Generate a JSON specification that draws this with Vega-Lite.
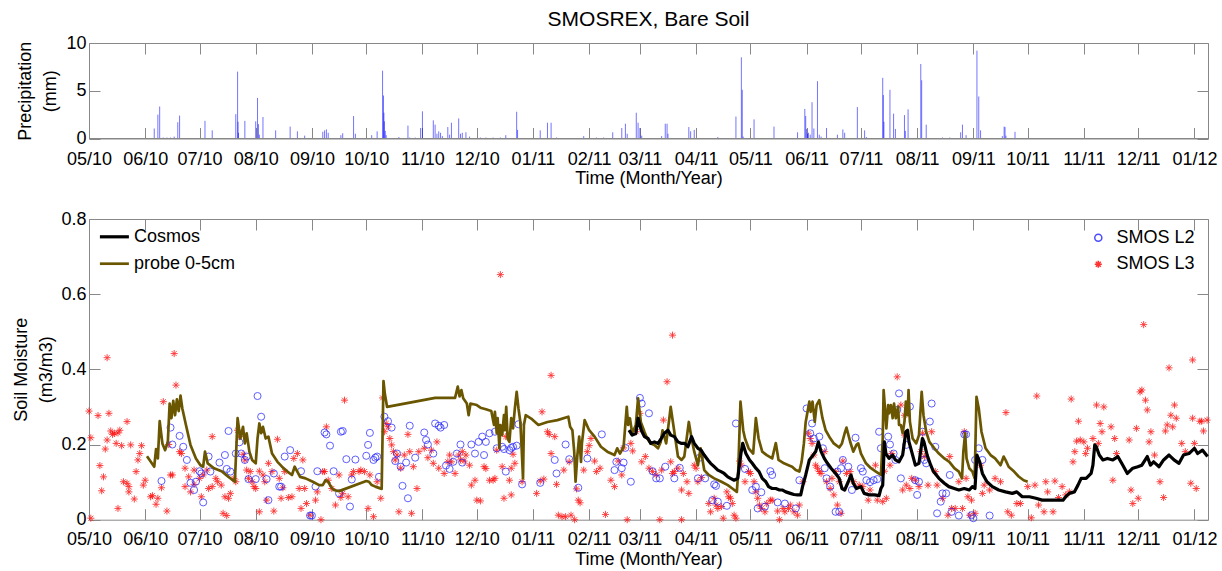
{
"$schema":"https://vega.github.io/schema/vega-lite/v6.json",
"background":"white",
"padding":{"left":11,"top":8,"right":10,"bottom":4},
"config":{
 "font":"Liberation Sans",
 "view":{"stroke":"#888888","strokeWidth":1},
 "axis":{"domain":false,"grid":false,"tickColor":"#888888","tickWidth":1,"labelColor":"#000000","titleColor":"#000000","labelFontSize":18,"titleFontSize":18,"titleFontWeight":"normal","labelFont":"Liberation Sans","titleFont":"Liberation Sans"},
 "legend":{"labelFont":"Liberation Sans","labelFontSize":18,"labelColor":"#000000","padding":0}
},
"datasets":{
"precip":[
{"date":"2010-06-06","precipitation":1.05},{"date":"2010-06-08","precipitation":2.5},{"date":"2010-06-09","precipitation":3.35},{"date":"2010-06-11","precipitation":0.1},{"date":"2010-06-13","precipitation":0.1},{"date":"2010-06-15","precipitation":0.1},{"date":"2010-06-17","precipitation":0.2},{"date":"2010-06-19","precipitation":1.7},{"date":"2010-06-20","precipitation":2.4},
{"date":"2010-07-04","precipitation":1.85},{"date":"2010-07-08","precipitation":0.85},{"date":"2010-07-21","precipitation":2.55},{"date":"2010-07-22","precipitation":7.0},{"date":"2010-07-22T06:00:00Z","precipitation":1.75},{"date":"2010-07-22T12:00:00Z","precipitation":0.6},{"date":"2010-07-26","precipitation":1.85},
{"date":"2010-08-01","precipitation":1.8},{"date":"2010-08-02","precipitation":4.25},{"date":"2010-08-02T12:00:00Z","precipitation":1.5},{"date":"2010-08-03","precipitation":0.4},{"date":"2010-08-05","precipitation":2.25},{"date":"2010-08-12","precipitation":0.85},{"date":"2010-08-20","precipitation":1.25},{"date":"2010-08-24","precipitation":0.75},{"date":"2010-08-28","precipitation":0.3},
{"date":"2010-09-07","precipitation":0.7},{"date":"2010-09-08","precipitation":0.85},{"date":"2010-09-09","precipitation":0.95},{"date":"2010-09-10","precipitation":0.6},{"date":"2010-09-17","precipitation":0.35},{"date":"2010-09-18","precipitation":0.55},{"date":"2010-09-24","precipitation":2.35},{"date":"2010-09-25","precipitation":0.5},
{"date":"2010-10-04","precipitation":0.35},{"date":"2010-10-07","precipitation":0.75},{"date":"2010-10-10","precipitation":7.1},{"date":"2010-10-10T12:00:00Z","precipitation":4.5},{"date":"2010-10-10T18:00:00Z","precipitation":2.7},{"date":"2010-10-11","precipitation":1.8},{"date":"2010-10-11T12:00:00Z","precipitation":0.8},{"date":"2010-10-12","precipitation":0.35},{"date":"2010-10-19","precipitation":0.15},{"date":"2010-10-24","precipitation":1.35},{"date":"2010-10-25","precipitation":0.1},{"date":"2010-10-28","precipitation":0.1},{"date":"2010-10-31","precipitation":1.1},
{"date":"2010-11-01","precipitation":2.85},{"date":"2010-11-07","precipitation":1.9},{"date":"2010-11-08","precipitation":1.45},{"date":"2010-11-09","precipitation":0.5},{"date":"2010-11-10","precipitation":0.75},{"date":"2010-11-11","precipitation":0.6},{"date":"2010-11-12","precipitation":0.25},{"date":"2010-11-15","precipitation":1.2},{"date":"2010-11-16","precipitation":0.4},{"date":"2010-11-17","precipitation":1.65},{"date":"2010-11-21","precipitation":2.1},{"date":"2010-11-22","precipitation":0.5},{"date":"2010-11-23","precipitation":0.6},{"date":"2010-11-25","precipitation":0.65},{"date":"2010-11-27","precipitation":0.2},
{"date":"2010-12-03","precipitation":0.1},{"date":"2010-12-06","precipitation":0.1},{"date":"2010-12-10","precipitation":0.1},{"date":"2010-12-14","precipitation":0.1},{"date":"2010-12-17","precipitation":0.35},{"date":"2010-12-23","precipitation":2.8},{"date":"2010-12-23T12:00:00Z","precipitation":0.9},
{"date":"2011-01-05","precipitation":0.85},{"date":"2011-01-09","precipitation":1.65},{"date":"2011-01-11","precipitation":1.65},{"date":"2011-01-14","precipitation":0.1},{"date":"2011-01-29","precipitation":0.25},
{"date":"2011-02-05","precipitation":0.1},{"date":"2011-02-09","precipitation":0.1},{"date":"2011-02-14","precipitation":0.65},{"date":"2011-02-19","precipitation":1.1},{"date":"2011-02-21","precipitation":1.55},{"date":"2011-02-22","precipitation":0.5},{"date":"2011-02-27","precipitation":2.7},{"date":"2011-02-28","precipitation":1.65},
{"date":"2011-03-01","precipitation":1.1},{"date":"2011-03-02","precipitation":0.3},{"date":"2011-03-13","precipitation":0.25},{"date":"2011-03-15","precipitation":1.55},{"date":"2011-03-16","precipitation":1.55},{"date":"2011-03-16T12:00:00Z","precipitation":0.5},{"date":"2011-03-28","precipitation":1.2},{"date":"2011-03-29","precipitation":0.75},{"date":"2011-03-31","precipitation":0.9},
{"date":"2011-04-13","precipitation":0.15},{"date":"2011-04-23","precipitation":2.3},{"date":"2011-04-26","precipitation":8.5},{"date":"2011-04-26T12:00:00Z","precipitation":5.1},{"date":"2011-04-27","precipitation":0.2},
{"date":"2011-05-03","precipitation":2.0},{"date":"2011-05-14","precipitation":1.25},{"date":"2011-05-27","precipitation":0.65},{"date":"2011-05-31","precipitation":3.1},{"date":"2011-05-31T12:00:00Z","precipitation":2.35},
{"date":"2011-06-01","precipitation":1.0},{"date":"2011-06-01T12:00:00Z","precipitation":0.5},{"date":"2011-06-02","precipitation":0.6},{"date":"2011-06-03","precipitation":0.4},{"date":"2011-06-04","precipitation":3.8},{"date":"2011-06-05","precipitation":1.05},{"date":"2011-06-07","precipitation":6.0},{"date":"2011-06-08","precipitation":0.4},{"date":"2011-06-09","precipitation":0.2},{"date":"2011-06-12","precipitation":1.1},{"date":"2011-06-18","precipitation":0.4},{"date":"2011-06-21","precipitation":0.95},{"date":"2011-06-22","precipitation":0.6},{"date":"2011-06-29","precipitation":3.3},
{"date":"2011-07-03","precipitation":0.85},{"date":"2011-07-04","precipitation":0.15},{"date":"2011-07-13","precipitation":6.35},{"date":"2011-07-13T08:00:00Z","precipitation":4.55},{"date":"2011-07-13T16:00:00Z","precipitation":1.75},{"date":"2011-07-17","precipitation":5.1},{"date":"2011-07-19","precipitation":2.6},{"date":"2011-07-20","precipitation":1.0},{"date":"2011-07-25","precipitation":2.45},{"date":"2011-07-25T12:00:00Z","precipitation":0.8},{"date":"2011-07-27","precipitation":3.05},
{"date":"2011-08-03","precipitation":7.8},{"date":"2011-08-03T12:00:00Z","precipitation":6.1},{"date":"2011-08-06","precipitation":1.45},{"date":"2011-08-15","precipitation":0.1},{"date":"2011-08-19","precipitation":0.1},{"date":"2011-08-25","precipitation":0.65},{"date":"2011-08-26","precipitation":1.45},{"date":"2011-08-28","precipitation":0.35},
{"date":"2011-09-03","precipitation":9.2},{"date":"2011-09-04","precipitation":4.4},{"date":"2011-09-05","precipitation":0.85},{"date":"2011-09-17","precipitation":0.25},{"date":"2011-09-18","precipitation":1.25},{"date":"2011-09-18T12:00:00Z","precipitation":1.2},{"date":"2011-09-19","precipitation":0.3},{"date":"2011-09-24","precipitation":0.7}
],
"lines":[
{"date":"2010-06-02","sm":0.169,"series":"probe 0-5cm"},{"date":"2010-06-06","sm":0.141,"series":"probe 0-5cm"},{"date":"2010-06-07","sm":0.188,"series":"probe 0-5cm"},{"date":"2010-06-08","sm":0.163,"series":"probe 0-5cm"},{"date":"2010-06-09","sm":0.262,"series":"probe 0-5cm"},{"date":"2010-06-10T12:00:00Z","sm":0.203,"series":"probe 0-5cm"},{"date":"2010-06-12","sm":0.185,"series":"probe 0-5cm"},{"date":"2010-06-13T12:00:00Z","sm":0.207,"series":"probe 0-5cm"},{"date":"2010-06-14T12:00:00Z","sm":0.309,"series":"probe 0-5cm"},{"date":"2010-06-15T12:00:00Z","sm":0.27,"series":"probe 0-5cm"},{"date":"2010-06-16T12:00:00Z","sm":0.316,"series":"probe 0-5cm"},{"date":"2010-06-17T12:00:00Z","sm":0.278,"series":"probe 0-5cm"},{"date":"2010-06-18T12:00:00Z","sm":0.32,"series":"probe 0-5cm"},{"date":"2010-06-19T12:00:00Z","sm":0.289,"series":"probe 0-5cm"},{"date":"2010-06-20T12:00:00Z","sm":0.33,"series":"probe 0-5cm"},{"date":"2010-06-21T12:00:00Z","sm":0.296,"series":"probe 0-5cm"},{"date":"2010-06-23T12:00:00Z","sm":0.252,"series":"probe 0-5cm"},{"date":"2010-06-26","sm":0.199,"series":"probe 0-5cm"},{"date":"2010-06-29","sm":0.163,"series":"probe 0-5cm"},{"date":"2010-07-01T12:00:00Z","sm":0.145,"series":"probe 0-5cm"},{"date":"2010-07-03","sm":0.141,"series":"probe 0-5cm"},{"date":"2010-07-04","sm":0.181,"series":"probe 0-5cm"},{"date":"2010-07-05T12:00:00Z","sm":0.15,"series":"probe 0-5cm"},{"date":"2010-07-09","sm":0.137,"series":"probe 0-5cm"},{"date":"2010-07-13T12:00:00Z","sm":0.128,"series":"probe 0-5cm"},{"date":"2010-07-17","sm":0.114,"series":"probe 0-5cm"},{"date":"2010-07-20T12:00:00Z","sm":0.101,"series":"probe 0-5cm"},{"date":"2010-07-22","sm":0.27,"series":"probe 0-5cm"},{"date":"2010-07-23T12:00:00Z","sm":0.216,"series":"probe 0-5cm"},{"date":"2010-07-25","sm":0.247,"series":"probe 0-5cm"},{"date":"2010-07-26","sm":0.203,"series":"probe 0-5cm"},{"date":"2010-07-27","sm":0.23,"series":"probe 0-5cm"},{"date":"2010-07-28T12:00:00Z","sm":0.181,"series":"probe 0-5cm"},{"date":"2010-07-30","sm":0.159,"series":"probe 0-5cm"},{"date":"2010-08-01","sm":0.15,"series":"probe 0-5cm"},{"date":"2010-08-02","sm":0.216,"series":"probe 0-5cm"},{"date":"2010-08-03","sm":0.256,"series":"probe 0-5cm"},{"date":"2010-08-04","sm":0.23,"series":"probe 0-5cm"},{"date":"2010-08-05","sm":0.247,"series":"probe 0-5cm"},{"date":"2010-08-06T12:00:00Z","sm":0.216,"series":"probe 0-5cm"},{"date":"2010-08-08","sm":0.221,"series":"probe 0-5cm"},{"date":"2010-08-10","sm":0.176,"series":"probe 0-5cm"},{"date":"2010-08-13","sm":0.154,"series":"probe 0-5cm"},{"date":"2010-08-15T12:00:00Z","sm":0.141,"series":"probe 0-5cm"},{"date":"2010-08-18T12:00:00Z","sm":0.128,"series":"probe 0-5cm"},{"date":"2010-08-21","sm":0.119,"series":"probe 0-5cm"},{"date":"2010-08-22T12:00:00Z","sm":0.141,"series":"probe 0-5cm"},{"date":"2010-08-23T12:00:00Z","sm":0.132,"series":"probe 0-5cm"},{"date":"2010-08-25T12:00:00Z","sm":0.114,"series":"probe 0-5cm"},{"date":"2010-08-28T12:00:00Z","sm":0.11,"series":"probe 0-5cm"},{"date":"2010-09-01T12:00:00Z","sm":0.101,"series":"probe 0-5cm"},{"date":"2010-09-05","sm":0.092,"series":"probe 0-5cm"},{"date":"2010-09-07","sm":0.092,"series":"probe 0-5cm"},{"date":"2010-09-08T12:00:00Z","sm":0.105,"series":"probe 0-5cm"},{"date":"2010-09-10","sm":0.101,"series":"probe 0-5cm"},{"date":"2010-09-11T12:00:00Z","sm":0.088,"series":"probe 0-5cm"},{"date":"2010-09-13","sm":0.079,"series":"probe 0-5cm"},{"date":"2010-09-16","sm":0.076,"series":"probe 0-5cm"},{"date":"2010-10-01","sm":0.103,"series":"probe 0-5cm"},{"date":"2010-10-02T12:00:00Z","sm":0.101,"series":"probe 0-5cm"},{"date":"2010-10-04","sm":0.092,"series":"probe 0-5cm"},{"date":"2010-10-06","sm":0.088,"series":"probe 0-5cm"},{"date":"2010-10-09T12:00:00Z","sm":0.082,"series":"probe 0-5cm"},{"date":"2010-10-10T12:00:00Z","sm":0.369,"series":"probe 0-5cm"},{"date":"2010-10-11T06:00:00Z","sm":0.335,"series":"probe 0-5cm"},{"date":"2010-10-12T12:00:00Z","sm":0.3,"series":"probe 0-5cm"},{"date":"2010-11-08","sm":0.324,"series":"probe 0-5cm"},{"date":"2010-11-19","sm":0.324,"series":"probe 0-5cm"},{"date":"2010-11-20T12:00:00Z","sm":0.354,"series":"probe 0-5cm"},{"date":"2010-11-21T12:00:00Z","sm":0.328,"series":"probe 0-5cm"},{"date":"2010-11-22T12:00:00Z","sm":0.345,"series":"probe 0-5cm"},{"date":"2010-11-23T12:00:00Z","sm":0.323,"series":"probe 0-5cm"},{"date":"2010-11-25T12:00:00Z","sm":0.309,"series":"probe 0-5cm"},{"date":"2010-11-26T12:00:00Z","sm":0.278,"series":"probe 0-5cm"},{"date":"2010-11-27T12:00:00Z","sm":0.309,"series":"probe 0-5cm"},{"date":"2010-12-01","sm":0.305,"series":"probe 0-5cm"},{"date":"2010-12-03","sm":0.298,"series":"probe 0-5cm"},{"date":"2010-12-06","sm":0.294,"series":"probe 0-5cm"},{"date":"2010-12-09","sm":0.289,"series":"probe 0-5cm"},{"date":"2010-12-10T12:00:00Z","sm":0.252,"series":"probe 0-5cm"},{"date":"2010-12-11","sm":0.287,"series":"probe 0-5cm"},{"date":"2010-12-12","sm":0.23,"series":"probe 0-5cm"},{"date":"2010-12-12T12:00:00Z","sm":0.27,"series":"probe 0-5cm"},{"date":"2010-12-13T12:00:00Z","sm":0.19,"series":"probe 0-5cm"},{"date":"2010-12-14","sm":0.252,"series":"probe 0-5cm"},{"date":"2010-12-15","sm":0.225,"series":"probe 0-5cm"},{"date":"2010-12-16","sm":0.278,"series":"probe 0-5cm"},{"date":"2010-12-16T12:00:00Z","sm":0.238,"series":"probe 0-5cm"},{"date":"2010-12-17T06:00:00Z","sm":0.3,"series":"probe 0-5cm"},{"date":"2010-12-18","sm":0.216,"series":"probe 0-5cm"},{"date":"2010-12-19","sm":0.207,"series":"probe 0-5cm"},{"date":"2010-12-20","sm":0.27,"series":"probe 0-5cm"},{"date":"2010-12-21","sm":0.243,"series":"probe 0-5cm"},{"date":"2010-12-22","sm":0.296,"series":"probe 0-5cm"},{"date":"2010-12-23","sm":0.34,"series":"probe 0-5cm"},{"date":"2010-12-24","sm":0.296,"series":"probe 0-5cm"},{"date":"2010-12-25","sm":0.261,"series":"probe 0-5cm"},{"date":"2010-12-25T18:00:00Z","sm":0.19,"series":"probe 0-5cm"},{"date":"2010-12-26T12:00:00Z","sm":0.11,"series":"probe 0-5cm"},{"date":"2010-12-27","sm":0.252,"series":"probe 0-5cm"},{"date":"2010-12-28","sm":0.278,"series":"probe 0-5cm"},{"date":"2010-12-31","sm":0.269,"series":"probe 0-5cm"},{"date":"2011-01-04","sm":0.252,"series":"probe 0-5cm"},{"date":"2011-01-09","sm":0.26,"series":"probe 0-5cm"},{"date":"2011-01-14T12:00:00Z","sm":0.265,"series":"probe 0-5cm"},{"date":"2011-01-20T12:00:00Z","sm":0.274,"series":"probe 0-5cm"},{"date":"2011-01-21T12:00:00Z","sm":0.247,"series":"probe 0-5cm"},{"date":"2011-01-22T18:00:00Z","sm":0.238,"series":"probe 0-5cm"},{"date":"2011-01-23T18:00:00Z","sm":0.181,"series":"probe 0-5cm"},{"date":"2011-01-24T12:00:00Z","sm":0.101,"series":"probe 0-5cm"},{"date":"2011-01-25T12:00:00Z","sm":0.172,"series":"probe 0-5cm"},{"date":"2011-01-26T12:00:00Z","sm":0.221,"series":"probe 0-5cm"},{"date":"2011-01-27T12:00:00Z","sm":0.154,"series":"probe 0-5cm"},{"date":"2011-01-28","sm":0.203,"series":"probe 0-5cm"},{"date":"2011-01-29T12:00:00Z","sm":0.265,"series":"probe 0-5cm"},{"date":"2011-02-01","sm":0.238,"series":"probe 0-5cm"},{"date":"2011-02-04","sm":0.221,"series":"probe 0-5cm"},{"date":"2011-02-07T12:00:00Z","sm":0.194,"series":"probe 0-5cm"},{"date":"2011-02-11","sm":0.181,"series":"probe 0-5cm"},{"date":"2011-02-15","sm":0.172,"series":"probe 0-5cm"},{"date":"2011-02-16T12:00:00Z","sm":0.19,"series":"probe 0-5cm"},{"date":"2011-02-18","sm":0.176,"series":"probe 0-5cm"},{"date":"2011-02-20","sm":0.194,"series":"probe 0-5cm"},{"date":"2011-02-21T18:00:00Z","sm":0.3,"series":"probe 0-5cm"},{"date":"2011-02-22T12:00:00Z","sm":0.252,"series":"probe 0-5cm"},{"date":"2011-02-23T12:00:00Z","sm":0.27,"series":"probe 0-5cm"},{"date":"2011-02-24T18:00:00Z","sm":0.23,"series":"probe 0-5cm"},{"date":"2011-02-26T18:00:00Z","sm":0.252,"series":"probe 0-5cm"},{"date":"2011-02-28","sm":0.323,"series":"probe 0-5cm"},{"date":"2011-03-01T12:00:00Z","sm":0.26,"series":"probe 0-5cm"},{"date":"2011-03-03T12:00:00Z","sm":0.234,"series":"probe 0-5cm"},{"date":"2011-03-05","sm":0.216,"series":"probe 0-5cm"},{"date":"2011-03-07","sm":0.203,"series":"probe 0-5cm"},{"date":"2011-03-09","sm":0.199,"series":"probe 0-5cm"},{"date":"2011-03-11","sm":0.19,"series":"probe 0-5cm"},{"date":"2011-03-12T12:00:00Z","sm":0.207,"series":"probe 0-5cm"},{"date":"2011-03-13T12:00:00Z","sm":0.238,"series":"probe 0-5cm"},{"date":"2011-03-15T12:00:00Z","sm":0.203,"series":"probe 0-5cm"},{"date":"2011-03-17","sm":0.26,"series":"probe 0-5cm"},{"date":"2011-03-18","sm":0.3,"series":"probe 0-5cm"},{"date":"2011-03-20","sm":0.234,"series":"probe 0-5cm"},{"date":"2011-03-22","sm":0.168,"series":"probe 0-5cm"},{"date":"2011-03-24","sm":0.159,"series":"probe 0-5cm"},{"date":"2011-03-25T12:00:00Z","sm":0.168,"series":"probe 0-5cm"},{"date":"2011-03-28","sm":0.26,"series":"probe 0-5cm"},{"date":"2011-03-29T12:00:00Z","sm":0.216,"series":"probe 0-5cm"},{"date":"2011-03-31","sm":0.181,"series":"probe 0-5cm"},{"date":"2011-04-02","sm":0.145,"series":"probe 0-5cm"},{"date":"2011-04-03T12:00:00Z","sm":0.19,"series":"probe 0-5cm"},{"date":"2011-04-05T12:00:00Z","sm":0.132,"series":"probe 0-5cm"},{"date":"2011-04-08","sm":0.119,"series":"probe 0-5cm"},{"date":"2011-04-11","sm":0.11,"series":"probe 0-5cm"},{"date":"2011-04-15","sm":0.101,"series":"probe 0-5cm"},{"date":"2011-04-18T12:00:00Z","sm":0.092,"series":"probe 0-5cm"},{"date":"2011-04-21","sm":0.083,"series":"probe 0-5cm"},{"date":"2011-04-23T12:00:00Z","sm":0.074,"series":"probe 0-5cm"},{"date":"2011-04-24T06:00:00Z","sm":0.128,"series":"probe 0-5cm"},{"date":"2011-04-25T12:00:00Z","sm":0.314,"series":"probe 0-5cm"},{"date":"2011-04-27","sm":0.238,"series":"probe 0-5cm"},{"date":"2011-04-28","sm":0.216,"series":"probe 0-5cm"},{"date":"2011-04-30","sm":0.19,"series":"probe 0-5cm"},{"date":"2011-05-02T12:00:00Z","sm":0.176,"series":"probe 0-5cm"},{"date":"2011-05-04","sm":0.27,"series":"probe 0-5cm"},{"date":"2011-05-05T12:00:00Z","sm":0.216,"series":"probe 0-5cm"},{"date":"2011-05-07T12:00:00Z","sm":0.181,"series":"probe 0-5cm"},{"date":"2011-05-10","sm":0.172,"series":"probe 0-5cm"},{"date":"2011-05-13","sm":0.163,"series":"probe 0-5cm"},{"date":"2011-05-15","sm":0.204,"series":"probe 0-5cm"},{"date":"2011-05-16T12:00:00Z","sm":0.159,"series":"probe 0-5cm"},{"date":"2011-05-19T12:00:00Z","sm":0.15,"series":"probe 0-5cm"},{"date":"2011-05-22","sm":0.145,"series":"probe 0-5cm"},{"date":"2011-05-24","sm":0.141,"series":"probe 0-5cm"},{"date":"2011-05-26","sm":0.132,"series":"probe 0-5cm"},{"date":"2011-05-28","sm":0.128,"series":"probe 0-5cm"},{"date":"2011-05-29T06:00:00Z","sm":0.154,"series":"probe 0-5cm"},{"date":"2011-05-30T12:00:00Z","sm":0.203,"series":"probe 0-5cm"},{"date":"2011-05-31T12:00:00Z","sm":0.26,"series":"probe 0-5cm"},{"date":"2011-06-02T12:00:00Z","sm":0.314,"series":"probe 0-5cm"},{"date":"2011-06-03T06:00:00Z","sm":0.287,"series":"probe 0-5cm"},{"date":"2011-06-04T06:00:00Z","sm":0.314,"series":"probe 0-5cm"},{"date":"2011-06-05T12:00:00Z","sm":0.26,"series":"probe 0-5cm"},{"date":"2011-06-06T12:00:00Z","sm":0.305,"series":"probe 0-5cm"},{"date":"2011-06-08","sm":0.318,"series":"probe 0-5cm"},{"date":"2011-06-09T18:00:00Z","sm":0.27,"series":"probe 0-5cm"},{"date":"2011-06-11T12:00:00Z","sm":0.238,"series":"probe 0-5cm"},{"date":"2011-06-13T12:00:00Z","sm":0.221,"series":"probe 0-5cm"},{"date":"2011-06-16","sm":0.203,"series":"probe 0-5cm"},{"date":"2011-06-19","sm":0.192,"series":"probe 0-5cm"},{"date":"2011-06-20T12:00:00Z","sm":0.203,"series":"probe 0-5cm"},{"date":"2011-06-22","sm":0.23,"series":"probe 0-5cm"},{"date":"2011-06-23","sm":0.245,"series":"probe 0-5cm"},{"date":"2011-06-25","sm":0.208,"series":"probe 0-5cm"},{"date":"2011-06-26T18:00:00Z","sm":0.181,"series":"probe 0-5cm"},{"date":"2011-06-28T12:00:00Z","sm":0.199,"series":"probe 0-5cm"},{"date":"2011-06-29T12:00:00Z","sm":0.203,"series":"probe 0-5cm"},{"date":"2011-07-01","sm":0.176,"series":"probe 0-5cm"},{"date":"2011-07-03T18:00:00Z","sm":0.15,"series":"probe 0-5cm"},{"date":"2011-07-06T12:00:00Z","sm":0.137,"series":"probe 0-5cm"},{"date":"2011-07-09T06:00:00Z","sm":0.128,"series":"probe 0-5cm"},{"date":"2011-07-12","sm":0.119,"series":"probe 0-5cm"},{"date":"2011-07-13","sm":0.216,"series":"probe 0-5cm"},{"date":"2011-07-13T12:00:00Z","sm":0.345,"series":"probe 0-5cm"},{"date":"2011-07-14T06:00:00Z","sm":0.296,"series":"probe 0-5cm"},{"date":"2011-07-15","sm":0.243,"series":"probe 0-5cm"},{"date":"2011-07-16","sm":0.305,"series":"probe 0-5cm"},{"date":"2011-07-16T12:00:00Z","sm":0.283,"series":"probe 0-5cm"},{"date":"2011-07-17T12:00:00Z","sm":0.305,"series":"probe 0-5cm"},{"date":"2011-07-18T12:00:00Z","sm":0.27,"series":"probe 0-5cm"},{"date":"2011-07-19T06:00:00Z","sm":0.309,"series":"probe 0-5cm"},{"date":"2011-07-20T06:00:00Z","sm":0.27,"series":"probe 0-5cm"},{"date":"2011-07-21T12:00:00Z","sm":0.301,"series":"probe 0-5cm"},{"date":"2011-07-22","sm":0.252,"series":"probe 0-5cm"},{"date":"2011-07-23","sm":0.252,"series":"probe 0-5cm"},{"date":"2011-07-24","sm":0.23,"series":"probe 0-5cm"},{"date":"2011-07-25","sm":0.261,"series":"probe 0-5cm"},{"date":"2011-07-25T18:00:00Z","sm":0.314,"series":"probe 0-5cm"},{"date":"2011-07-26T18:00:00Z","sm":0.278,"series":"probe 0-5cm"},{"date":"2011-07-27T06:00:00Z","sm":0.345,"series":"probe 0-5cm"},{"date":"2011-07-28","sm":0.261,"series":"probe 0-5cm"},{"date":"2011-07-29T12:00:00Z","sm":0.216,"series":"probe 0-5cm"},{"date":"2011-07-31T12:00:00Z","sm":0.203,"series":"probe 0-5cm"},{"date":"2011-08-02","sm":0.225,"series":"probe 0-5cm"},{"date":"2011-08-03T12:00:00Z","sm":0.34,"series":"probe 0-5cm"},{"date":"2011-08-04T12:00:00Z","sm":0.278,"series":"probe 0-5cm"},{"date":"2011-08-06","sm":0.234,"series":"probe 0-5cm"},{"date":"2011-08-07T18:00:00Z","sm":0.207,"series":"probe 0-5cm"},{"date":"2011-08-10T12:00:00Z","sm":0.19,"series":"probe 0-5cm"},{"date":"2011-08-13","sm":0.176,"series":"probe 0-5cm"},{"date":"2011-08-16","sm":0.163,"series":"probe 0-5cm"},{"date":"2011-08-18T18:00:00Z","sm":0.154,"series":"probe 0-5cm"},{"date":"2011-08-21T12:00:00Z","sm":0.137,"series":"probe 0-5cm"},{"date":"2011-08-24","sm":0.128,"series":"probe 0-5cm"},{"date":"2011-08-25T18:00:00Z","sm":0.11,"series":"probe 0-5cm"},{"date":"2011-08-26T12:00:00Z","sm":0.181,"series":"probe 0-5cm"},{"date":"2011-08-27T12:00:00Z","sm":0.23,"series":"probe 0-5cm"},{"date":"2011-08-28T06:00:00Z","sm":0.163,"series":"probe 0-5cm"},{"date":"2011-08-29T18:00:00Z","sm":0.137,"series":"probe 0-5cm"},{"date":"2011-08-31T12:00:00Z","sm":0.128,"series":"probe 0-5cm"},{"date":"2011-09-01T18:00:00Z","sm":0.11,"series":"probe 0-5cm"},{"date":"2011-09-02T18:00:00Z","sm":0.327,"series":"probe 0-5cm"},{"date":"2011-09-04","sm":0.296,"series":"probe 0-5cm"},{"date":"2011-09-05T12:00:00Z","sm":0.234,"series":"probe 0-5cm"},{"date":"2011-09-07T18:00:00Z","sm":0.19,"series":"probe 0-5cm"},{"date":"2011-09-10T12:00:00Z","sm":0.172,"series":"probe 0-5cm"},{"date":"2011-09-13","sm":0.163,"series":"probe 0-5cm"},{"date":"2011-09-16","sm":0.145,"series":"probe 0-5cm"},{"date":"2011-09-17T18:00:00Z","sm":0.168,"series":"probe 0-5cm"},{"date":"2011-09-18T18:00:00Z","sm":0.159,"series":"probe 0-5cm"},{"date":"2011-09-20T12:00:00Z","sm":0.141,"series":"probe 0-5cm"},{"date":"2011-09-23T12:00:00Z","sm":0.128,"series":"probe 0-5cm"},{"date":"2011-09-26","sm":0.115,"series":"probe 0-5cm"},{"date":"2011-09-28T18:00:00Z","sm":0.105,"series":"probe 0-5cm"},{"date":"2011-10-01","sm":0.101,"series":"probe 0-5cm"},
{"date":"2011-02-23","sm":0.238,"series":"Cosmos"},{"date":"2011-02-24T18:00:00Z","sm":0.225,"series":"Cosmos"},{"date":"2011-02-26T18:00:00Z","sm":0.229,"series":"Cosmos"},{"date":"2011-02-28","sm":0.27,"series":"Cosmos"},{"date":"2011-03-01T18:00:00Z","sm":0.238,"series":"Cosmos"},{"date":"2011-03-03T12:00:00Z","sm":0.221,"series":"Cosmos"},{"date":"2011-03-05T12:00:00Z","sm":0.216,"series":"Cosmos"},{"date":"2011-03-07","sm":0.203,"series":"Cosmos"},{"date":"2011-03-09","sm":0.207,"series":"Cosmos"},{"date":"2011-03-11","sm":0.203,"series":"Cosmos"},{"date":"2011-03-12T18:00:00Z","sm":0.216,"series":"Cosmos"},{"date":"2011-03-14T12:00:00Z","sm":0.23,"series":"Cosmos"},{"date":"2011-03-16T12:00:00Z","sm":0.238,"series":"Cosmos"},{"date":"2011-03-18","sm":0.225,"series":"Cosmos"},{"date":"2011-03-20","sm":0.221,"series":"Cosmos"},{"date":"2011-03-22","sm":0.207,"series":"Cosmos"},{"date":"2011-03-24","sm":0.203,"series":"Cosmos"},{"date":"2011-03-25T18:00:00Z","sm":0.203,"series":"Cosmos"},{"date":"2011-03-27T12:00:00Z","sm":0.194,"series":"Cosmos"},{"date":"2011-03-29T12:00:00Z","sm":0.221,"series":"Cosmos"},{"date":"2011-03-31","sm":0.203,"series":"Cosmos"},{"date":"2011-04-02","sm":0.19,"series":"Cosmos"},{"date":"2011-04-03T18:00:00Z","sm":0.185,"series":"Cosmos"},{"date":"2011-04-05T12:00:00Z","sm":0.172,"series":"Cosmos"},{"date":"2011-04-07T12:00:00Z","sm":0.159,"series":"Cosmos"},{"date":"2011-04-09","sm":0.15,"series":"Cosmos"},{"date":"2011-04-11","sm":0.141,"series":"Cosmos"},{"date":"2011-04-13","sm":0.132,"series":"Cosmos"},{"date":"2011-04-14T18:00:00Z","sm":0.128,"series":"Cosmos"},{"date":"2011-04-16T12:00:00Z","sm":0.123,"series":"Cosmos"},{"date":"2011-04-18T12:00:00Z","sm":0.114,"series":"Cosmos"},{"date":"2011-04-20","sm":0.11,"series":"Cosmos"},{"date":"2011-04-22","sm":0.105,"series":"Cosmos"},{"date":"2011-04-24","sm":0.11,"series":"Cosmos"},{"date":"2011-04-25T18:00:00Z","sm":0.176,"series":"Cosmos"},{"date":"2011-04-26T18:00:00Z","sm":0.203,"series":"Cosmos"},{"date":"2011-04-28T12:00:00Z","sm":0.176,"series":"Cosmos"},{"date":"2011-04-30T12:00:00Z","sm":0.159,"series":"Cosmos"},{"date":"2011-05-02","sm":0.15,"series":"Cosmos"},{"date":"2011-05-04","sm":0.137,"series":"Cosmos"},{"date":"2011-05-05T18:00:00Z","sm":0.128,"series":"Cosmos"},{"date":"2011-05-07T12:00:00Z","sm":0.11,"series":"Cosmos"},{"date":"2011-05-09T12:00:00Z","sm":0.101,"series":"Cosmos"},{"date":"2011-05-11","sm":0.088,"series":"Cosmos"},{"date":"2011-05-13","sm":0.083,"series":"Cosmos"},{"date":"2011-05-15","sm":0.083,"series":"Cosmos"},{"date":"2011-05-17","sm":0.079,"series":"Cosmos"},{"date":"2011-05-18T18:00:00Z","sm":0.079,"series":"Cosmos"},{"date":"2011-05-20T12:00:00Z","sm":0.074,"series":"Cosmos"},{"date":"2011-05-23","sm":0.07,"series":"Cosmos"},{"date":"2011-05-25","sm":0.067,"series":"Cosmos"},{"date":"2011-05-27","sm":0.066,"series":"Cosmos"},{"date":"2011-05-28T18:00:00Z","sm":0.066,"series":"Cosmos"},{"date":"2011-05-29T18:00:00Z","sm":0.088,"series":"Cosmos"},{"date":"2011-05-31T12:00:00Z","sm":0.119,"series":"Cosmos"},{"date":"2011-06-02T12:00:00Z","sm":0.159,"series":"Cosmos"},{"date":"2011-06-04","sm":0.168,"series":"Cosmos"},{"date":"2011-06-06","sm":0.181,"series":"Cosmos"},{"date":"2011-06-07T12:00:00Z","sm":0.207,"series":"Cosmos"},{"date":"2011-06-09","sm":0.181,"series":"Cosmos"},{"date":"2011-06-10T18:00:00Z","sm":0.163,"series":"Cosmos"},{"date":"2011-06-12T12:00:00Z","sm":0.15,"series":"Cosmos"},{"date":"2011-06-14T12:00:00Z","sm":0.137,"series":"Cosmos"},{"date":"2011-06-17","sm":0.123,"series":"Cosmos"},{"date":"2011-06-19","sm":0.11,"series":"Cosmos"},{"date":"2011-06-20T12:00:00Z","sm":0.083,"series":"Cosmos"},{"date":"2011-06-22","sm":0.079,"series":"Cosmos"},{"date":"2011-06-24","sm":0.101,"series":"Cosmos"},{"date":"2011-06-25T12:00:00Z","sm":0.119,"series":"Cosmos"},{"date":"2011-06-26T18:00:00Z","sm":0.097,"series":"Cosmos"},{"date":"2011-06-28T12:00:00Z","sm":0.083,"series":"Cosmos"},{"date":"2011-07-01","sm":0.088,"series":"Cosmos"},{"date":"2011-07-02T18:00:00Z","sm":0.07,"series":"Cosmos"},{"date":"2011-07-05T12:00:00Z","sm":0.066,"series":"Cosmos"},{"date":"2011-07-08T12:00:00Z","sm":0.066,"series":"Cosmos"},{"date":"2011-07-11","sm":0.064,"series":"Cosmos"},{"date":"2011-07-12","sm":0.083,"series":"Cosmos"},{"date":"2011-07-13","sm":0.092,"series":"Cosmos"},{"date":"2011-07-13T22:00:00Z","sm":0.207,"series":"Cosmos"},{"date":"2011-07-14T18:00:00Z","sm":0.176,"series":"Cosmos"},{"date":"2011-07-16T12:00:00Z","sm":0.163,"series":"Cosmos"},{"date":"2011-07-18T12:00:00Z","sm":0.172,"series":"Cosmos"},{"date":"2011-07-20","sm":0.159,"series":"Cosmos"},{"date":"2011-07-22","sm":0.154,"series":"Cosmos"},{"date":"2011-07-24","sm":0.172,"series":"Cosmos"},{"date":"2011-07-25T18:00:00Z","sm":0.234,"series":"Cosmos"},{"date":"2011-07-26T18:00:00Z","sm":0.238,"series":"Cosmos"},{"date":"2011-07-27T12:00:00Z","sm":0.207,"series":"Cosmos"},{"date":"2011-07-29T12:00:00Z","sm":0.172,"series":"Cosmos"},{"date":"2011-07-31","sm":0.145,"series":"Cosmos"},{"date":"2011-08-02","sm":0.15,"series":"Cosmos"},{"date":"2011-08-03T22:00:00Z","sm":0.216,"series":"Cosmos"},{"date":"2011-08-04T18:00:00Z","sm":0.207,"series":"Cosmos"},{"date":"2011-08-06T12:00:00Z","sm":0.172,"series":"Cosmos"},{"date":"2011-08-08T12:00:00Z","sm":0.145,"series":"Cosmos"},{"date":"2011-08-10","sm":0.128,"series":"Cosmos"},{"date":"2011-08-13","sm":0.11,"series":"Cosmos"},{"date":"2011-08-16","sm":0.097,"series":"Cosmos"},{"date":"2011-08-18T12:00:00Z","sm":0.088,"series":"Cosmos"},{"date":"2011-08-21T12:00:00Z","sm":0.083,"series":"Cosmos"},{"date":"2011-08-24","sm":0.079,"series":"Cosmos"},{"date":"2011-08-27","sm":0.083,"series":"Cosmos"},{"date":"2011-08-29T18:00:00Z","sm":0.079,"series":"Cosmos"},{"date":"2011-08-31T12:00:00Z","sm":0.088,"series":"Cosmos"},{"date":"2011-09-01T22:00:00Z","sm":0.083,"series":"Cosmos"},{"date":"2011-09-03","sm":0.172,"series":"Cosmos"},{"date":"2011-09-04T12:00:00Z","sm":0.154,"series":"Cosmos"},{"date":"2011-09-06","sm":0.123,"series":"Cosmos"},{"date":"2011-09-08T12:00:00Z","sm":0.101,"series":"Cosmos"},{"date":"2011-09-11T12:00:00Z","sm":0.088,"series":"Cosmos"},{"date":"2011-09-15","sm":0.079,"series":"Cosmos"},{"date":"2011-09-18T18:00:00Z","sm":0.074,"series":"Cosmos"},{"date":"2011-09-22T12:00:00Z","sm":0.07,"series":"Cosmos"},{"date":"2011-09-25","sm":0.074,"series":"Cosmos"},{"date":"2011-09-28","sm":0.061,"series":"Cosmos"},{"date":"2011-10-02","sm":0.061,"series":"Cosmos"},{"date":"2011-10-05T12:00:00Z","sm":0.057,"series":"Cosmos"},{"date":"2011-10-09","sm":0.052,"series":"Cosmos"},{"date":"2011-10-13","sm":0.052,"series":"Cosmos"},{"date":"2011-10-16T18:00:00Z","sm":0.052,"series":"Cosmos"},{"date":"2011-10-20T12:00:00Z","sm":0.052,"series":"Cosmos"},{"date":"2011-10-22","sm":0.061,"series":"Cosmos"},{"date":"2011-10-24","sm":0.07,"series":"Cosmos"},{"date":"2011-10-26T18:00:00Z","sm":0.074,"series":"Cosmos"},{"date":"2011-10-28T18:00:00Z","sm":0.092,"series":"Cosmos"},{"date":"2011-10-30T12:00:00Z","sm":0.11,"series":"Cosmos"},{"date":"2011-11-02T06:00:00Z","sm":0.11,"series":"Cosmos"},{"date":"2011-11-05","sm":0.123,"series":"Cosmos"},{"date":"2011-11-06","sm":0.145,"series":"Cosmos"},{"date":"2011-11-07","sm":0.199,"series":"Cosmos"},{"date":"2011-11-07T18:00:00Z","sm":0.195,"series":"Cosmos"},{"date":"2011-11-09T12:00:00Z","sm":0.172,"series":"Cosmos"},{"date":"2011-11-11T12:00:00Z","sm":0.159,"series":"Cosmos"},{"date":"2011-11-14","sm":0.163,"series":"Cosmos"},{"date":"2011-11-17","sm":0.159,"series":"Cosmos"},{"date":"2011-11-19T18:00:00Z","sm":0.168,"series":"Cosmos"},{"date":"2011-11-22T12:00:00Z","sm":0.145,"series":"Cosmos"},{"date":"2011-11-25","sm":0.123,"series":"Cosmos"},{"date":"2011-11-28","sm":0.137,"series":"Cosmos"},{"date":"2011-11-30T18:00:00Z","sm":0.141,"series":"Cosmos"},{"date":"2011-12-03","sm":0.145,"series":"Cosmos"},{"date":"2011-12-06","sm":0.168,"series":"Cosmos"},{"date":"2011-12-07T18:00:00Z","sm":0.145,"series":"Cosmos"},{"date":"2011-12-09T12:00:00Z","sm":0.154,"series":"Cosmos"},{"date":"2011-12-12T12:00:00Z","sm":0.141,"series":"Cosmos"},{"date":"2011-12-15","sm":0.159,"series":"Cosmos"},{"date":"2011-12-18","sm":0.172,"series":"Cosmos"},{"date":"2011-12-20T18:00:00Z","sm":0.159,"series":"Cosmos"},{"date":"2011-12-23T12:00:00Z","sm":0.15,"series":"Cosmos"},{"date":"2011-12-26","sm":0.172,"series":"Cosmos"},{"date":"2011-12-29","sm":0.176,"series":"Cosmos"},{"date":"2012-01-01","sm":0.19,"series":"Cosmos"},{"date":"2012-01-02T18:00:00Z","sm":0.176,"series":"Cosmos"},{"date":"2012-01-05T12:00:00Z","sm":0.185,"series":"Cosmos"},{"date":"2012-01-08T06:00:00Z","sm":0.168,"series":"Cosmos"}
],
"smos":[
{"date":"2010-05-01","sm":0.289,"product":"SMOS L3"},{"date":"2010-05-02","sm":0.004,"product":"SMOS L3"},{"date":"2010-05-02","sm":0.218,"product":"SMOS L3"},{"date":"2010-05-06","sm":0.277,"product":"SMOS L3"},{"date":"2010-05-12","sm":0.283,"product":"SMOS L3"},{"date":"2010-05-07","sm":0.144,"product":"SMOS L3"},{"date":"2010-05-10","sm":0.188,"product":"SMOS L3"},{"date":"2010-05-08","sm":0.077,"product":"SMOS L3"},{"date":"2010-05-09","sm":0.114,"product":"SMOS L3"},{"date":"2010-05-11","sm":0.212,"product":"SMOS L3"},{"date":"2010-05-13","sm":0.236,"product":"SMOS L3"},{"date":"2010-05-14","sm":0.227,"product":"SMOS L3"},{"date":"2010-05-15","sm":0.23,"product":"SMOS L3"},{"date":"2010-05-17","sm":0.231,"product":"SMOS L3"},{"date":"2010-05-18","sm":0.238,"product":"SMOS L3"},{"date":"2010-05-22","sm":0.261,"product":"SMOS L3"},{"date":"2010-05-16","sm":0.203,"product":"SMOS L3"},{"date":"2010-05-19","sm":0.197,"product":"SMOS L3"},{"date":"2010-05-17","sm":0.03,"product":"SMOS L3"},{"date":"2010-05-20","sm":0.101,"product":"SMOS L3"},{"date":"2010-05-22","sm":0.097,"product":"SMOS L3"},{"date":"2010-05-23","sm":0.088,"product":"SMOS L3"},{"date":"2010-05-24","sm":0.199,"product":"SMOS L3"},{"date":"2010-05-23","sm":0.074,"product":"SMOS L3"},{"date":"2010-05-26","sm":0.055,"product":"SMOS L3"},{"date":"2010-05-27","sm":0.128,"product":"SMOS L3"},{"date":"2010-05-28","sm":0.159,"product":"SMOS L3"},{"date":"2010-05-29","sm":0.176,"product":"SMOS L3"},{"date":"2010-05-30","sm":0.197,"product":"SMOS L3"},{"date":"2010-05-31","sm":0.092,"product":"SMOS L3"},{"date":"2010-06-01","sm":0.105,"product":"SMOS L3"},{"date":"2010-06-04","sm":0.061,"product":"SMOS L3"},{"date":"2010-06-05","sm":0.064,"product":"SMOS L3"},{"date":"2010-06-07","sm":0.041,"product":"SMOS L3"},{"date":"2010-06-08","sm":0.057,"product":"SMOS L3"},{"date":"2010-06-10","sm":0.085,"product":"SMOS L3"},{"date":"2010-06-13","sm":0.023,"product":"SMOS L3"},{"date":"2010-06-11","sm":0.314,"product":"SMOS L3"},{"date":"2010-06-14","sm":0.2,"product":"SMOS L3"},{"date":"2010-06-15","sm":0.119,"product":"SMOS L3"},{"date":"2010-06-16","sm":0.119,"product":"SMOS L3"},{"date":"2010-06-18","sm":0.358,"product":"SMOS L3"},{"date":"2010-06-17","sm":0.442,"product":"SMOS L3"},{"date":"2010-05-11","sm":0.431,"product":"SMOS L3"},{"date":"2010-06-20","sm":0.181,"product":"SMOS L3"},{"date":"2010-06-21","sm":0.176,"product":"SMOS L3"},{"date":"2010-06-23","sm":0.137,"product":"SMOS L3"},{"date":"2010-06-23","sm":0.088,"product":"SMOS L3"},{"date":"2010-06-25","sm":0.114,"product":"SMOS L3"},{"date":"2010-06-26","sm":0.074,"product":"SMOS L3"},{"date":"2010-06-28","sm":0.132,"product":"SMOS L3"},{"date":"2010-06-28","sm":0.094,"product":"SMOS L3"},{"date":"2010-07-01","sm":0.11,"product":"SMOS L3"},{"date":"2010-07-02","sm":0.061,"product":"SMOS L3"},{"date":"2010-07-03","sm":0.119,"product":"SMOS L3"},{"date":"2010-07-05","sm":0.132,"product":"SMOS L3"},{"date":"2010-07-06","sm":0.083,"product":"SMOS L3"},{"date":"2010-07-08","sm":0.221,"product":"SMOS L3"},{"date":"2010-07-08","sm":0.088,"product":"SMOS L3"},{"date":"2010-07-10","sm":0.11,"product":"SMOS L3"},{"date":"2010-07-11","sm":0.101,"product":"SMOS L3"},{"date":"2010-07-13","sm":0.092,"product":"SMOS L3"},{"date":"2010-07-14","sm":0.017,"product":"SMOS L3"},{"date":"2010-07-16","sm":0.011,"product":"SMOS L3"},{"date":"2010-07-15","sm":0.061,"product":"SMOS L3"},{"date":"2010-07-17","sm":0.057,"product":"SMOS L3"},{"date":"2010-07-18","sm":0.07,"product":"SMOS L3"},{"date":"2010-07-21","sm":0.101,"product":"SMOS L3"},{"date":"2010-07-20","sm":0.11,"product":"SMOS L3"},{"date":"2010-07-22","sm":0.238,"product":"SMOS L3"},{"date":"2010-07-23","sm":0.221,"product":"SMOS L3"},{"date":"2010-07-25","sm":0.174,"product":"SMOS L3"},{"date":"2010-07-26","sm":0.159,"product":"SMOS L3"},{"date":"2010-07-27","sm":0.132,"product":"SMOS L3"},{"date":"2010-07-28","sm":0.11,"product":"SMOS L3"},{"date":"2010-07-29","sm":0.128,"product":"SMOS L3"},{"date":"2010-07-30","sm":0.101,"product":"SMOS L3"},{"date":"2010-07-31","sm":0.088,"product":"SMOS L3"},{"date":"2010-08-01","sm":0.083,"product":"SMOS L3"},{"date":"2010-08-03","sm":0.021,"product":"SMOS L3"},{"date":"2010-08-03","sm":0.129,"product":"SMOS L3"},{"date":"2010-08-05","sm":0.119,"product":"SMOS L3"},{"date":"2010-08-06","sm":0.101,"product":"SMOS L3"},{"date":"2010-08-07","sm":0.052,"product":"SMOS L3"},{"date":"2010-08-08","sm":0.15,"product":"SMOS L3"},{"date":"2010-08-10","sm":0.128,"product":"SMOS L3"},{"date":"2010-08-11","sm":0.023,"product":"SMOS L3"},{"date":"2010-08-13","sm":0.214,"product":"SMOS L3"},{"date":"2010-08-14","sm":0.11,"product":"SMOS L3"},{"date":"2010-08-15","sm":0.057,"product":"SMOS L3"},{"date":"2010-08-16","sm":0.085,"product":"SMOS L3"},{"date":"2010-08-17","sm":0.128,"product":"SMOS L3"},{"date":"2010-08-19","sm":0.059,"product":"SMOS L3"},{"date":"2010-08-21","sm":0.061,"product":"SMOS L3"},{"date":"2010-08-22","sm":0.163,"product":"SMOS L3"},{"date":"2010-08-24","sm":0.176,"product":"SMOS L3"},{"date":"2010-08-25","sm":0.083,"product":"SMOS L3"},{"date":"2010-08-26","sm":0.03,"product":"SMOS L3"},{"date":"2010-08-27","sm":0.159,"product":"SMOS L3"},{"date":"2010-08-28","sm":0.083,"product":"SMOS L3"},{"date":"2010-08-29","sm":0.043,"product":"SMOS L3"},{"date":"2010-08-31","sm":0.012,"product":"SMOS L3"},{"date":"2010-09-03","sm":0.052,"product":"SMOS L3"},{"date":"2010-09-04","sm":0.074,"product":"SMOS L3"},{"date":"2010-09-06","sm":0.0,"product":"SMOS L3"},{"date":"2010-09-07","sm":0.128,"product":"SMOS L3"},{"date":"2010-09-08","sm":0.128,"product":"SMOS L3"},{"date":"2010-09-09","sm":0.247,"product":"SMOS L3"},{"date":"2010-09-10","sm":0.105,"product":"SMOS L3"},{"date":"2010-09-12","sm":0.083,"product":"SMOS L3"},{"date":"2010-09-14","sm":0.039,"product":"SMOS L3"},{"date":"2010-09-16","sm":0.119,"product":"SMOS L3"},{"date":"2010-09-17","sm":0.059,"product":"SMOS L3"},{"date":"2010-09-18","sm":0.07,"product":"SMOS L3"},{"date":"2010-09-19","sm":0.318,"product":"SMOS L3"},{"date":"2010-09-21","sm":0.061,"product":"SMOS L3"},{"date":"2010-09-23","sm":0.119,"product":"SMOS L3"},{"date":"2010-09-24","sm":0.128,"product":"SMOS L3"},{"date":"2010-09-27","sm":0.128,"product":"SMOS L3"},{"date":"2010-09-28","sm":0.132,"product":"SMOS L3"},{"date":"2010-09-30","sm":0.128,"product":"SMOS L3"},{"date":"2010-10-02","sm":0.03,"product":"SMOS L3"},{"date":"2010-10-03","sm":0.119,"product":"SMOS L3"},{"date":"2010-10-05","sm":0.008,"product":"SMOS L3"},{"date":"2010-10-07","sm":0.101,"product":"SMOS L3"},{"date":"2010-10-09","sm":0.057,"product":"SMOS L3"},{"date":"2010-10-10","sm":0.324,"product":"SMOS L3"},{"date":"2010-10-11","sm":0.234,"product":"SMOS L3"},{"date":"2010-10-12","sm":0.256,"product":"SMOS L3"},{"date":"2010-10-13","sm":0.247,"product":"SMOS L3"},{"date":"2010-10-14","sm":0.216,"product":"SMOS L3"},{"date":"2010-10-15","sm":0.199,"product":"SMOS L3"},{"date":"2010-10-16","sm":0.181,"product":"SMOS L3"},{"date":"2010-10-17","sm":0.159,"product":"SMOS L3"},{"date":"2010-10-18","sm":0.172,"product":"SMOS L3"},{"date":"2010-10-19","sm":0.021,"product":"SMOS L3"},{"date":"2010-10-20","sm":0.137,"product":"SMOS L3"},{"date":"2010-10-22","sm":0.172,"product":"SMOS L3"},{"date":"2010-10-24","sm":0.227,"product":"SMOS L3"},{"date":"2010-10-25","sm":0.181,"product":"SMOS L3"},{"date":"2010-10-26","sm":0.017,"product":"SMOS L3"},{"date":"2010-10-27","sm":0.141,"product":"SMOS L3"},{"date":"2010-10-29","sm":0.083,"product":"SMOS L3"},{"date":"2010-10-30","sm":0.181,"product":"SMOS L3"},{"date":"2010-11-02","sm":0.19,"product":"SMOS L3"},{"date":"2010-11-04","sm":0.165,"product":"SMOS L3"},{"date":"2010-11-06","sm":0.185,"product":"SMOS L3"},{"date":"2010-11-07","sm":0.15,"product":"SMOS L3"},{"date":"2010-11-09","sm":0.207,"product":"SMOS L3"},{"date":"2010-11-10","sm":0.137,"product":"SMOS L3"},{"date":"2010-11-13","sm":0.123,"product":"SMOS L3"},{"date":"2010-11-15","sm":0.154,"product":"SMOS L3"},{"date":"2010-11-16","sm":0.172,"product":"SMOS L3"},{"date":"2010-11-17","sm":0.154,"product":"SMOS L3"},{"date":"2010-11-19","sm":0.123,"product":"SMOS L3"},{"date":"2010-11-21","sm":0.172,"product":"SMOS L3"},{"date":"2010-11-22","sm":0.159,"product":"SMOS L3"},{"date":"2010-11-23","sm":0.181,"product":"SMOS L3"},{"date":"2010-11-24","sm":0.156,"product":"SMOS L3"},{"date":"2010-11-25","sm":0.172,"product":"SMOS L3"},{"date":"2010-11-27","sm":0.145,"product":"SMOS L3"},{"date":"2010-11-28","sm":0.092,"product":"SMOS L3"},{"date":"2010-12-01","sm":0.052,"product":"SMOS L3"},{"date":"2010-12-03","sm":0.05,"product":"SMOS L3"},{"date":"2010-11-30","sm":0.105,"product":"SMOS L3"},{"date":"2010-12-05","sm":0.141,"product":"SMOS L3"},{"date":"2010-12-06","sm":0.136,"product":"SMOS L3"},{"date":"2010-12-08","sm":0.105,"product":"SMOS L3"},{"date":"2010-12-10","sm":0.105,"product":"SMOS L3"},{"date":"2010-12-11","sm":0.11,"product":"SMOS L3"},{"date":"2010-12-12","sm":0.185,"product":"SMOS L3"},{"date":"2010-12-15","sm":0.141,"product":"SMOS L3"},{"date":"2010-12-16","sm":0.057,"product":"SMOS L3"},{"date":"2010-12-17","sm":0.221,"product":"SMOS L3"},{"date":"2010-12-19","sm":0.105,"product":"SMOS L3"},{"date":"2010-12-20","sm":0.066,"product":"SMOS L3"},{"date":"2010-12-21","sm":0.174,"product":"SMOS L3"},{"date":"2010-12-22","sm":0.15,"product":"SMOS L3"},{"date":"2010-12-20","sm":0.137,"product":"SMOS L3"},{"date":"2010-12-26","sm":0.101,"product":"SMOS L3"},{"date":"2010-12-14","sm":0.652,"product":"SMOS L3"},{"date":"2011-01-03","sm":0.07,"product":"SMOS L3"},{"date":"2011-01-05","sm":0.103,"product":"SMOS L3"},{"date":"2011-01-06","sm":0.287,"product":"SMOS L3"},{"date":"2011-01-07","sm":0.108,"product":"SMOS L3"},{"date":"2011-01-09","sm":0.234,"product":"SMOS L3"},{"date":"2011-01-10","sm":0.227,"product":"SMOS L3"},{"date":"2011-01-11","sm":0.176,"product":"SMOS L3"},{"date":"2011-01-11","sm":0.384,"product":"SMOS L3"},{"date":"2011-01-13","sm":0.221,"product":"SMOS L3"},{"date":"2011-01-14","sm":0.094,"product":"SMOS L3"},{"date":"2011-01-15","sm":0.012,"product":"SMOS L3"},{"date":"2011-01-17","sm":0.008,"product":"SMOS L3"},{"date":"2011-01-19","sm":0.008,"product":"SMOS L3"},{"date":"2011-01-22","sm":0.012,"product":"SMOS L3"},{"date":"2011-01-24","sm":0.0,"product":"SMOS L3"},{"date":"2011-01-18","sm":0.132,"product":"SMOS L3"},{"date":"2011-01-21","sm":0.154,"product":"SMOS L3"},{"date":"2011-01-25","sm":0.082,"product":"SMOS L3"},{"date":"2011-01-26","sm":0.052,"product":"SMOS L3"},{"date":"2011-01-27","sm":0.045,"product":"SMOS L3"},{"date":"2011-01-29","sm":0.132,"product":"SMOS L3"},{"date":"2011-01-31","sm":0.181,"product":"SMOS L3"},{"date":"2011-02-01","sm":0.197,"product":"SMOS L3"},{"date":"2011-02-02","sm":0.216,"product":"SMOS L3"},{"date":"2011-02-04","sm":0.156,"product":"SMOS L3"},{"date":"2011-02-05","sm":0.128,"product":"SMOS L3"},{"date":"2011-02-07","sm":0.137,"product":"SMOS L3"},{"date":"2011-02-10","sm":0.014,"product":"SMOS L3"},{"date":"2011-02-13","sm":0.105,"product":"SMOS L3"},{"date":"2011-02-15","sm":0.088,"product":"SMOS L3"},{"date":"2011-02-17","sm":0.156,"product":"SMOS L3"},{"date":"2011-02-19","sm":0.119,"product":"SMOS L3"},{"date":"2011-02-20","sm":0.191,"product":"SMOS L3"},{"date":"2011-02-22","sm":0.0,"product":"SMOS L3"},{"date":"2011-02-24","sm":0.203,"product":"SMOS L3"},{"date":"2011-02-25","sm":0.183,"product":"SMOS L3"},{"date":"2011-02-27","sm":0.234,"product":"SMOS L3"},{"date":"2011-03-01","sm":0.283,"product":"SMOS L3"},{"date":"2011-03-02","sm":0.154,"product":"SMOS L3"},{"date":"2011-03-04","sm":0.168,"product":"SMOS L3"},{"date":"2011-03-06","sm":0.137,"product":"SMOS L3"},{"date":"2011-03-08","sm":0.128,"product":"SMOS L3"},{"date":"2011-03-10","sm":0.119,"product":"SMOS L3"},{"date":"2011-03-12","sm":0.0,"product":"SMOS L3"},{"date":"2011-03-13","sm":0.132,"product":"SMOS L3"},{"date":"2011-03-14","sm":0.265,"product":"SMOS L3"},{"date":"2011-03-16","sm":0.367,"product":"SMOS L3"},{"date":"2011-03-19","sm":0.491,"product":"SMOS L3"},{"date":"2011-03-18","sm":0.154,"product":"SMOS L3"},{"date":"2011-03-19","sm":0.123,"product":"SMOS L3"},{"date":"2011-03-20","sm":0.128,"product":"SMOS L3"},{"date":"2011-03-22","sm":0.137,"product":"SMOS L3"},{"date":"2011-03-24","sm":0.0,"product":"SMOS L3"},{"date":"2011-03-24","sm":0.079,"product":"SMOS L3"},{"date":"2011-03-25","sm":0.123,"product":"SMOS L3"},{"date":"2011-03-27","sm":0.101,"product":"SMOS L3"},{"date":"2011-03-28","sm":0.07,"product":"SMOS L3"},{"date":"2011-03-31","sm":0.145,"product":"SMOS L3"},{"date":"2011-04-01","sm":0.137,"product":"SMOS L3"},{"date":"2011-04-02","sm":0.101,"product":"SMOS L3"},{"date":"2011-04-04","sm":0.112,"product":"SMOS L3"},{"date":"2011-04-08","sm":0.043,"product":"SMOS L3"},{"date":"2011-04-09","sm":0.021,"product":"SMOS L3"},{"date":"2011-04-11","sm":0.057,"product":"SMOS L3"},{"date":"2011-04-12","sm":0.039,"product":"SMOS L3"},{"date":"2011-04-13","sm":0.03,"product":"SMOS L3"},{"date":"2011-04-15","sm":0.035,"product":"SMOS L3"},{"date":"2011-04-16","sm":0.004,"product":"SMOS L3"},{"date":"2011-04-18","sm":0.074,"product":"SMOS L3"},{"date":"2011-04-19","sm":0.061,"product":"SMOS L3"},{"date":"2011-04-20","sm":0.057,"product":"SMOS L3"},{"date":"2011-04-21","sm":0.043,"product":"SMOS L3"},{"date":"2011-04-22","sm":0.012,"product":"SMOS L3"},{"date":"2011-04-23","sm":0.004,"product":"SMOS L3"},{"date":"2011-04-25","sm":0.156,"product":"SMOS L3"},{"date":"2011-04-26","sm":0.145,"product":"SMOS L3"},{"date":"2011-04-28","sm":0.101,"product":"SMOS L3"},{"date":"2011-04-30","sm":0.128,"product":"SMOS L3"},{"date":"2011-05-01","sm":0.123,"product":"SMOS L3"},{"date":"2011-05-03","sm":0.101,"product":"SMOS L3"},{"date":"2011-05-04","sm":0.074,"product":"SMOS L3"},{"date":"2011-05-05","sm":0.057,"product":"SMOS L3"},{"date":"2011-05-06","sm":0.039,"product":"SMOS L3"},{"date":"2011-05-07","sm":0.03,"product":"SMOS L3"},{"date":"2011-05-09","sm":0.021,"product":"SMOS L3"},{"date":"2011-05-10","sm":0.043,"product":"SMOS L3"},{"date":"2011-05-12","sm":0.052,"product":"SMOS L3"},{"date":"2011-05-13","sm":0.052,"product":"SMOS L3"},{"date":"2011-05-16","sm":0.023,"product":"SMOS L3"},{"date":"2011-05-17","sm":0.0,"product":"SMOS L3"},{"date":"2011-05-19","sm":0.03,"product":"SMOS L3"},{"date":"2011-05-20","sm":0.021,"product":"SMOS L3"},{"date":"2011-05-22","sm":0.03,"product":"SMOS L3"},{"date":"2011-05-23","sm":0.039,"product":"SMOS L3"},{"date":"2011-05-25","sm":0.021,"product":"SMOS L3"},{"date":"2011-05-27","sm":0.012,"product":"SMOS L3"},{"date":"2011-05-28","sm":0.039,"product":"SMOS L3"},{"date":"2011-05-30","sm":0.101,"product":"SMOS L3"},{"date":"2011-06-02","sm":0.23,"product":"SMOS L3"},{"date":"2011-06-03","sm":0.216,"product":"SMOS L3"},{"date":"2011-06-04","sm":0.203,"product":"SMOS L3"},{"date":"2011-06-05","sm":0.172,"product":"SMOS L3"},{"date":"2011-06-06","sm":0.145,"product":"SMOS L3"},{"date":"2011-06-07","sm":0.137,"product":"SMOS L3"},{"date":"2011-06-08","sm":0.128,"product":"SMOS L3"},{"date":"2011-06-09","sm":0.123,"product":"SMOS L3"},{"date":"2011-06-11","sm":0.181,"product":"SMOS L3"},{"date":"2011-06-12","sm":0.101,"product":"SMOS L3"},{"date":"2011-06-14","sm":0.083,"product":"SMOS L3"},{"date":"2011-06-15","sm":0.11,"product":"SMOS L3"},{"date":"2011-06-17","sm":0.128,"product":"SMOS L3"},{"date":"2011-06-16","sm":0.066,"product":"SMOS L3"},{"date":"2011-06-18","sm":0.039,"product":"SMOS L3"},{"date":"2011-06-20","sm":0.017,"product":"SMOS L3"},{"date":"2011-06-19","sm":0.101,"product":"SMOS L3"},{"date":"2011-06-21","sm":0.156,"product":"SMOS L3"},{"date":"2011-06-23","sm":0.123,"product":"SMOS L3"},{"date":"2011-06-25","sm":0.128,"product":"SMOS L3"},{"date":"2011-06-27","sm":0.101,"product":"SMOS L3"},{"date":"2011-06-30","sm":0.092,"product":"SMOS L3"},{"date":"2011-07-02","sm":0.088,"product":"SMOS L3"},{"date":"2011-07-05","sm":0.052,"product":"SMOS L3"},{"date":"2011-07-06","sm":0.079,"product":"SMOS L3"},{"date":"2011-07-09","sm":0.145,"product":"SMOS L3"},{"date":"2011-07-10","sm":0.052,"product":"SMOS L3"},{"date":"2011-07-13","sm":0.048,"product":"SMOS L3"},{"date":"2011-07-14","sm":0.129,"product":"SMOS L3"},{"date":"2011-07-15","sm":0.057,"product":"SMOS L3"},{"date":"2011-07-17","sm":0.145,"product":"SMOS L3"},{"date":"2011-07-18","sm":0.176,"product":"SMOS L3"},{"date":"2011-07-21","sm":0.38,"product":"SMOS L3"},{"date":"2011-07-23","sm":0.305,"product":"SMOS L3"},{"date":"2011-07-24","sm":0.079,"product":"SMOS L3"},{"date":"2011-07-25","sm":0.225,"product":"SMOS L3"},{"date":"2011-07-25","sm":0.278,"product":"SMOS L3"},{"date":"2011-07-26","sm":0.092,"product":"SMOS L3"},{"date":"2011-07-28","sm":0.083,"product":"SMOS L3"},{"date":"2011-07-29","sm":0.11,"product":"SMOS L3"},{"date":"2011-07-31","sm":0.105,"product":"SMOS L3"},{"date":"2011-08-02","sm":0.088,"product":"SMOS L3"},{"date":"2011-08-03","sm":0.181,"product":"SMOS L3"},{"date":"2011-08-04","sm":0.23,"product":"SMOS L3"},{"date":"2011-08-05","sm":0.168,"product":"SMOS L3"},{"date":"2011-08-07","sm":0.092,"product":"SMOS L3"},{"date":"2011-08-09","sm":0.234,"product":"SMOS L3"},{"date":"2011-08-11","sm":0.128,"product":"SMOS L3"},{"date":"2011-08-12","sm":0.092,"product":"SMOS L3"},{"date":"2011-08-15","sm":0.057,"product":"SMOS L3"},{"date":"2011-08-18","sm":0.012,"product":"SMOS L3"},{"date":"2011-08-19","sm":0.168,"product":"SMOS L3"},{"date":"2011-08-20","sm":0.03,"product":"SMOS L3"},{"date":"2011-08-22","sm":0.03,"product":"SMOS L3"},{"date":"2011-08-24","sm":0.101,"product":"SMOS L3"},{"date":"2011-08-26","sm":0.03,"product":"SMOS L3"},{"date":"2011-08-27","sm":0.234,"product":"SMOS L3"},{"date":"2011-08-28","sm":0.11,"product":"SMOS L3"},{"date":"2011-08-29","sm":0.061,"product":"SMOS L3"},{"date":"2011-08-30","sm":0.012,"product":"SMOS L3"},{"date":"2011-08-31","sm":0.052,"product":"SMOS L3"},{"date":"2011-09-02","sm":0.017,"product":"SMOS L3"},{"date":"2011-09-05","sm":0.145,"product":"SMOS L3"},{"date":"2011-09-06","sm":0.07,"product":"SMOS L3"},{"date":"2011-09-07","sm":0.092,"product":"SMOS L3"},{"date":"2011-09-10","sm":0.079,"product":"SMOS L3"},{"date":"2011-09-13","sm":0.11,"product":"SMOS L3"},{"date":"2011-09-16","sm":0.101,"product":"SMOS L3"},{"date":"2011-09-19","sm":0.285,"product":"SMOS L3"},{"date":"2011-09-20","sm":0.021,"product":"SMOS L3"},{"date":"2011-09-22","sm":0.012,"product":"SMOS L3"},{"date":"2011-09-25","sm":0.043,"product":"SMOS L3"},{"date":"2011-09-27","sm":0.043,"product":"SMOS L3"},{"date":"2011-10-01","sm":0.088,"product":"SMOS L3"},{"date":"2011-10-03","sm":0.005,"product":"SMOS L3"},{"date":"2011-10-05","sm":0.092,"product":"SMOS L3"},{"date":"2011-10-06","sm":0.329,"product":"SMOS L3"},{"date":"2011-10-07","sm":0.039,"product":"SMOS L3"},{"date":"2011-10-10","sm":0.021,"product":"SMOS L3"},{"date":"2011-10-11","sm":0.101,"product":"SMOS L3"},{"date":"2011-10-12","sm":0.074,"product":"SMOS L3"},{"date":"2011-10-15","sm":0.021,"product":"SMOS L3"},{"date":"2011-10-16","sm":0.103,"product":"SMOS L3"},{"date":"2011-10-18","sm":0.059,"product":"SMOS L3"},{"date":"2011-10-20","sm":0.088,"product":"SMOS L3"},{"date":"2011-10-22","sm":0.066,"product":"SMOS L3"},{"date":"2011-10-24","sm":0.074,"product":"SMOS L3"},{"date":"2011-10-25","sm":0.321,"product":"SMOS L3"},{"date":"2011-10-26","sm":0.154,"product":"SMOS L3"},{"date":"2011-10-27","sm":0.181,"product":"SMOS L3"},{"date":"2011-10-29","sm":0.262,"product":"SMOS L3"},{"date":"2011-10-28","sm":0.209,"product":"SMOS L3"},{"date":"2011-10-30","sm":0.212,"product":"SMOS L3"},{"date":"2011-11-01","sm":0.207,"product":"SMOS L3"},{"date":"2011-11-02","sm":0.176,"product":"SMOS L3"},{"date":"2011-11-03","sm":0.19,"product":"SMOS L3"},{"date":"2011-11-06","sm":0.216,"product":"SMOS L3"},{"date":"2011-11-08","sm":0.305,"product":"SMOS L3"},{"date":"2011-11-09","sm":0.203,"product":"SMOS L3"},{"date":"2011-11-11","sm":0.234,"product":"SMOS L3"},{"date":"2011-11-12","sm":0.3,"product":"SMOS L3"},{"date":"2011-11-10","sm":0.256,"product":"SMOS L3"},{"date":"2011-11-16","sm":0.247,"product":"SMOS L3"},{"date":"2011-11-17","sm":0.105,"product":"SMOS L3"},{"date":"2011-11-18","sm":0.216,"product":"SMOS L3"},{"date":"2011-11-19","sm":0.176,"product":"SMOS L3"},{"date":"2011-11-26","sm":0.212,"product":"SMOS L3"},{"date":"2011-11-27","sm":0.079,"product":"SMOS L3"},{"date":"2011-11-28","sm":0.043,"product":"SMOS L3"},{"date":"2011-11-30","sm":0.243,"product":"SMOS L3"},{"date":"2011-12-01","sm":0.057,"product":"SMOS L3"},{"date":"2011-12-03","sm":0.345,"product":"SMOS L3"},{"date":"2011-12-05","sm":0.318,"product":"SMOS L3"},{"date":"2011-12-06","sm":0.292,"product":"SMOS L3"},{"date":"2011-12-07","sm":0.207,"product":"SMOS L3"},{"date":"2011-12-08","sm":0.234,"product":"SMOS L3"},{"date":"2011-12-10","sm":0.172,"product":"SMOS L3"},{"date":"2011-12-13","sm":0.101,"product":"SMOS L3"},{"date":"2011-12-15","sm":0.059,"product":"SMOS L3"},{"date":"2011-12-16","sm":0.236,"product":"SMOS L3"},{"date":"2011-12-17","sm":0.252,"product":"SMOS L3"},{"date":"2011-12-19","sm":0.278,"product":"SMOS L3"},{"date":"2011-12-21","sm":0.305,"product":"SMOS L3"},{"date":"2011-12-22","sm":0.27,"product":"SMOS L3"},{"date":"2011-12-20","sm":0.247,"product":"SMOS L3"},{"date":"2011-12-25","sm":0.203,"product":"SMOS L3"},{"date":"2011-12-27","sm":0.181,"product":"SMOS L3"},{"date":"2011-12-30","sm":0.097,"product":"SMOS L3"},{"date":"2012-01-01","sm":0.203,"product":"SMOS L3"},{"date":"2012-01-02","sm":0.083,"product":"SMOS L3"},{"date":"2011-12-31","sm":0.27,"product":"SMOS L3"},{"date":"2012-01-04","sm":0.262,"product":"SMOS L3"},{"date":"2012-01-05","sm":0.262,"product":"SMOS L3"},{"date":"2012-01-06","sm":0.236,"product":"SMOS L3"},{"date":"2012-01-08","sm":0.265,"product":"SMOS L3"},{"date":"2011-12-04","sm":0.519,"product":"SMOS L3"},{"date":"2011-12-18","sm":0.404,"product":"SMOS L3"},{"date":"2011-12-31","sm":0.425,"product":"SMOS L3"},{"date":"2011-12-02","sm":0.34,"product":"SMOS L3"},
{"date":"2010-06-10","sm":0.103,"product":"SMOS L2"},{"date":"2010-06-15","sm":0.245,"product":"SMOS L2"},{"date":"2010-06-16","sm":0.2,"product":"SMOS L2"},{"date":"2010-06-20","sm":0.223,"product":"SMOS L2"},{"date":"2010-06-22","sm":0.194,"product":"SMOS L2"},{"date":"2010-06-24","sm":0.159,"product":"SMOS L2"},{"date":"2010-06-26","sm":0.098,"product":"SMOS L2"},{"date":"2010-06-28","sm":0.079,"product":"SMOS L2"},{"date":"2010-06-29","sm":0.101,"product":"SMOS L2"},{"date":"2010-07-01","sm":0.129,"product":"SMOS L2"},{"date":"2010-07-02","sm":0.123,"product":"SMOS L2"},{"date":"2010-07-03","sm":0.046,"product":"SMOS L2"},{"date":"2010-07-06","sm":0.168,"product":"SMOS L2"},{"date":"2010-07-07","sm":0.128,"product":"SMOS L2"},{"date":"2010-07-12","sm":0.152,"product":"SMOS L2"},{"date":"2010-07-15","sm":0.172,"product":"SMOS L2"},{"date":"2010-07-16","sm":0.135,"product":"SMOS L2"},{"date":"2010-07-17","sm":0.236,"product":"SMOS L2"},{"date":"2010-07-18","sm":0.128,"product":"SMOS L2"},{"date":"2010-07-21","sm":0.176,"product":"SMOS L2"},{"date":"2010-07-23","sm":0.206,"product":"SMOS L2"},{"date":"2010-07-24","sm":0.176,"product":"SMOS L2"},{"date":"2010-07-26","sm":0.159,"product":"SMOS L2"},{"date":"2010-07-27","sm":0.168,"product":"SMOS L2"},{"date":"2010-07-28","sm":0.108,"product":"SMOS L2"},{"date":"2010-08-01","sm":0.108,"product":"SMOS L2"},{"date":"2010-08-02","sm":0.329,"product":"SMOS L2"},{"date":"2010-08-04","sm":0.274,"product":"SMOS L2"},{"date":"2010-08-08","sm":0.052,"product":"SMOS L2"},{"date":"2010-08-07","sm":0.108,"product":"SMOS L2"},{"date":"2010-08-11","sm":0.123,"product":"SMOS L2"},{"date":"2010-08-14","sm":0.088,"product":"SMOS L2"},{"date":"2010-08-15","sm":0.088,"product":"SMOS L2"},{"date":"2010-08-17","sm":0.168,"product":"SMOS L2"},{"date":"2010-08-20","sm":0.185,"product":"SMOS L2"},{"date":"2010-08-26","sm":0.129,"product":"SMOS L2"},{"date":"2010-08-31","sm":0.011,"product":"SMOS L2"},{"date":"2010-09-01","sm":0.011,"product":"SMOS L2"},{"date":"2010-09-03","sm":0.088,"product":"SMOS L2"},{"date":"2010-09-04","sm":0.129,"product":"SMOS L2"},{"date":"2010-09-08","sm":0.232,"product":"SMOS L2"},{"date":"2010-09-09","sm":0.227,"product":"SMOS L2"},{"date":"2010-09-11","sm":0.197,"product":"SMOS L2"},{"date":"2010-09-13","sm":0.129,"product":"SMOS L2"},{"date":"2010-09-16","sm":0.07,"product":"SMOS L2"},{"date":"2010-09-17","sm":0.234,"product":"SMOS L2"},{"date":"2010-09-18","sm":0.236,"product":"SMOS L2"},{"date":"2010-09-20","sm":0.161,"product":"SMOS L2"},{"date":"2010-09-22","sm":0.035,"product":"SMOS L2"},{"date":"2010-09-23","sm":0.107,"product":"SMOS L2"},{"date":"2010-09-25","sm":0.16,"product":"SMOS L2"},{"date":"2010-10-01","sm":0.17,"product":"SMOS L2"},{"date":"2010-10-02","sm":0.199,"product":"SMOS L2"},{"date":"2010-10-03","sm":0.231,"product":"SMOS L2"},{"date":"2010-10-05","sm":0.159,"product":"SMOS L2"},{"date":"2010-10-06","sm":0.165,"product":"SMOS L2"},{"date":"2010-10-07","sm":0.168,"product":"SMOS L2"},{"date":"2010-10-08","sm":0.114,"product":"SMOS L2"},{"date":"2010-10-11","sm":0.274,"product":"SMOS L2"},{"date":"2010-10-13","sm":0.262,"product":"SMOS L2"},{"date":"2010-10-15","sm":0.245,"product":"SMOS L2"},{"date":"2010-10-17","sm":0.156,"product":"SMOS L2"},{"date":"2010-10-18","sm":0.176,"product":"SMOS L2"},{"date":"2010-10-20","sm":0.141,"product":"SMOS L2"},{"date":"2010-10-21","sm":0.09,"product":"SMOS L2"},{"date":"2010-10-23","sm":0.152,"product":"SMOS L2"},{"date":"2010-10-24","sm":0.057,"product":"SMOS L2"},{"date":"2010-10-25","sm":0.25,"product":"SMOS L2"},{"date":"2010-10-28","sm":0.165,"product":"SMOS L2"},{"date":"2010-11-02","sm":0.232,"product":"SMOS L2"},{"date":"2010-11-03","sm":0.212,"product":"SMOS L2"},{"date":"2010-11-04","sm":0.2,"product":"SMOS L2"},{"date":"2010-11-07","sm":0.176,"product":"SMOS L2"},{"date":"2010-11-08","sm":0.256,"product":"SMOS L2"},{"date":"2010-11-10","sm":0.25,"product":"SMOS L2"},{"date":"2010-11-11","sm":0.245,"product":"SMOS L2"},{"date":"2010-11-13","sm":0.252,"product":"SMOS L2"},{"date":"2010-11-14","sm":0.144,"product":"SMOS L2"},{"date":"2010-11-16","sm":0.135,"product":"SMOS L2"},{"date":"2010-11-18","sm":0.154,"product":"SMOS L2"},{"date":"2010-11-20","sm":0.176,"product":"SMOS L2"},{"date":"2010-11-22","sm":0.2,"product":"SMOS L2"},{"date":"2010-11-23","sm":0.152,"product":"SMOS L2"},{"date":"2010-11-28","sm":0.2,"product":"SMOS L2"},{"date":"2010-11-30","sm":0.176,"product":"SMOS L2"},{"date":"2010-12-02","sm":0.207,"product":"SMOS L2"},{"date":"2010-12-04","sm":0.221,"product":"SMOS L2"},{"date":"2010-12-05","sm":0.172,"product":"SMOS L2"},{"date":"2010-12-06","sm":0.207,"product":"SMOS L2"},{"date":"2010-12-08","sm":0.23,"product":"SMOS L2"},{"date":"2010-12-11","sm":0.234,"product":"SMOS L2"},{"date":"2010-12-12","sm":0.19,"product":"SMOS L2"},{"date":"2010-12-15","sm":0.194,"product":"SMOS L2"},{"date":"2010-12-16","sm":0.188,"product":"SMOS L2"},{"date":"2010-12-17","sm":0.128,"product":"SMOS L2"},{"date":"2010-12-19","sm":0.185,"product":"SMOS L2"},{"date":"2010-12-20","sm":0.191,"product":"SMOS L2"},{"date":"2010-12-21","sm":0.194,"product":"SMOS L2"},{"date":"2010-12-23","sm":0.197,"product":"SMOS L2"},{"date":"2010-12-24","sm":0.254,"product":"SMOS L2"},{"date":"2010-12-26","sm":0.094,"product":"SMOS L2"},{"date":"2011-01-05","sm":0.098,"product":"SMOS L2"},{"date":"2011-01-13","sm":0.159,"product":"SMOS L2"},{"date":"2011-01-14","sm":0.123,"product":"SMOS L2"},{"date":"2011-01-19","sm":0.2,"product":"SMOS L2"},{"date":"2011-01-21","sm":0.161,"product":"SMOS L2"},{"date":"2011-01-26","sm":0.085,"product":"SMOS L2"},{"date":"2011-01-31","sm":0.163,"product":"SMOS L2"},{"date":"2011-02-08","sm":0.227,"product":"SMOS L2"},{"date":"2011-02-15","sm":0.132,"product":"SMOS L2"},{"date":"2011-02-16","sm":0.154,"product":"SMOS L2"},{"date":"2011-02-19","sm":0.137,"product":"SMOS L2"},{"date":"2011-02-20","sm":0.152,"product":"SMOS L2"},{"date":"2011-02-21","sm":0.191,"product":"SMOS L2"},{"date":"2011-02-24","sm":0.101,"product":"SMOS L2"},{"date":"2011-03-01","sm":0.324,"product":"SMOS L2"},{"date":"2011-03-02","sm":0.309,"product":"SMOS L2"},{"date":"2011-03-06","sm":0.283,"product":"SMOS L2"},{"date":"2011-03-08","sm":0.129,"product":"SMOS L2"},{"date":"2011-03-10","sm":0.11,"product":"SMOS L2"},{"date":"2011-03-12","sm":0.11,"product":"SMOS L2"},{"date":"2011-03-15","sm":0.141,"product":"SMOS L2"},{"date":"2011-03-20","sm":0.11,"product":"SMOS L2"},{"date":"2011-03-23","sm":0.138,"product":"SMOS L2"},{"date":"2011-04-02","sm":0.11,"product":"SMOS L2"},{"date":"2011-04-03","sm":0.165,"product":"SMOS L2"},{"date":"2011-04-06","sm":0.11,"product":"SMOS L2"},{"date":"2011-04-11","sm":0.094,"product":"SMOS L2"},{"date":"2011-04-12","sm":0.09,"product":"SMOS L2"},{"date":"2011-04-10","sm":0.052,"product":"SMOS L2"},{"date":"2011-04-13","sm":0.048,"product":"SMOS L2"},{"date":"2011-04-18","sm":0.037,"product":"SMOS L2"},{"date":"2011-04-23","sm":0.256,"product":"SMOS L2"},{"date":"2011-04-28","sm":0.135,"product":"SMOS L2"},{"date":"2011-05-02","sm":0.079,"product":"SMOS L2"},{"date":"2011-05-04","sm":0.088,"product":"SMOS L2"},{"date":"2011-05-05","sm":0.03,"product":"SMOS L2"},{"date":"2011-05-07","sm":0.073,"product":"SMOS L2"},{"date":"2011-05-09","sm":0.035,"product":"SMOS L2"},{"date":"2011-05-12","sm":0.129,"product":"SMOS L2"},{"date":"2011-05-13","sm":0.119,"product":"SMOS L2"},{"date":"2011-05-16","sm":0.046,"product":"SMOS L2"},{"date":"2011-05-20","sm":0.043,"product":"SMOS L2"},{"date":"2011-05-26","sm":0.03,"product":"SMOS L2"},{"date":"2011-05-28","sm":0.105,"product":"SMOS L2"},{"date":"2011-06-01","sm":0.296,"product":"SMOS L2"},{"date":"2011-06-04","sm":0.256,"product":"SMOS L2"},{"date":"2011-06-03","sm":0.23,"product":"SMOS L2"},{"date":"2011-06-05","sm":0.216,"product":"SMOS L2"},{"date":"2011-06-08","sm":0.221,"product":"SMOS L2"},{"date":"2011-06-10","sm":0.19,"product":"SMOS L2"},{"date":"2011-06-11","sm":0.137,"product":"SMOS L2"},{"date":"2011-06-12","sm":0.11,"product":"SMOS L2"},{"date":"2011-06-14","sm":0.088,"product":"SMOS L2"},{"date":"2011-06-17","sm":0.021,"product":"SMOS L2"},{"date":"2011-06-18","sm":0.128,"product":"SMOS L2"},{"date":"2011-06-19","sm":0.021,"product":"SMOS L2"},{"date":"2011-06-20","sm":0.137,"product":"SMOS L2"},{"date":"2011-06-21","sm":0.159,"product":"SMOS L2"},{"date":"2011-06-24","sm":0.141,"product":"SMOS L2"},{"date":"2011-06-26","sm":0.079,"product":"SMOS L2"},{"date":"2011-06-28","sm":0.218,"product":"SMOS L2"},{"date":"2011-07-01","sm":0.137,"product":"SMOS L2"},{"date":"2011-07-02","sm":0.128,"product":"SMOS L2"},{"date":"2011-07-04","sm":0.105,"product":"SMOS L2"},{"date":"2011-07-06","sm":0.1,"product":"SMOS L2"},{"date":"2011-07-08","sm":0.105,"product":"SMOS L2"},{"date":"2011-07-10","sm":0.108,"product":"SMOS L2"},{"date":"2011-07-11","sm":0.234,"product":"SMOS L2"},{"date":"2011-07-12","sm":0.19,"product":"SMOS L2"},{"date":"2011-07-16","sm":0.221,"product":"SMOS L2"},{"date":"2011-07-17","sm":0.2,"product":"SMOS L2"},{"date":"2011-07-19","sm":0.176,"product":"SMOS L2"},{"date":"2011-07-20","sm":0.159,"product":"SMOS L2"},{"date":"2011-07-21","sm":0.292,"product":"SMOS L2"},{"date":"2011-07-22","sm":0.336,"product":"SMOS L2"},{"date":"2011-07-23","sm":0.11,"product":"SMOS L2"},{"date":"2011-07-26","sm":0.199,"product":"SMOS L2"},{"date":"2011-07-28","sm":0.301,"product":"SMOS L2"},{"date":"2011-07-31","sm":0.105,"product":"SMOS L2"},{"date":"2011-08-01","sm":0.066,"product":"SMOS L2"},{"date":"2011-08-02","sm":0.101,"product":"SMOS L2"},{"date":"2011-08-04","sm":0.234,"product":"SMOS L2"},{"date":"2011-08-05","sm":0.159,"product":"SMOS L2"},{"date":"2011-08-06","sm":0.15,"product":"SMOS L2"},{"date":"2011-08-08","sm":0.261,"product":"SMOS L2"},{"date":"2011-08-09","sm":0.309,"product":"SMOS L2"},{"date":"2011-08-11","sm":0.194,"product":"SMOS L2"},{"date":"2011-08-12","sm":0.017,"product":"SMOS L2"},{"date":"2011-08-14","sm":0.048,"product":"SMOS L2"},{"date":"2011-08-15","sm":0.07,"product":"SMOS L2"},{"date":"2011-08-17","sm":0.07,"product":"SMOS L2"},{"date":"2011-08-19","sm":0.119,"product":"SMOS L2"},{"date":"2011-08-20","sm":0.021,"product":"SMOS L2"},{"date":"2011-08-24","sm":0.011,"product":"SMOS L2"},{"date":"2011-08-27","sm":0.227,"product":"SMOS L2"},{"date":"2011-08-28","sm":0.227,"product":"SMOS L2"},{"date":"2011-08-31","sm":0.012,"product":"SMOS L2"},{"date":"2011-09-01","sm":0.004,"product":"SMOS L2"},{"date":"2011-09-02","sm":0.159,"product":"SMOS L2"},{"date":"2011-09-04","sm":0.19,"product":"SMOS L2"},{"date":"2011-09-06","sm":0.159,"product":"SMOS L2"},{"date":"2011-09-10","sm":0.011,"product":"SMOS L2"}
]
},
"bounds":"flush",
"spacing":80,
"vconcat":[
{
 "width":1119,"height":95.5,
 "title":{"text":"SMOSREX, Bare Soil","fontSize":21,"fontWeight":"normal","font":"Liberation Sans","color":"#000000","frame":"group","anchor":"middle","baseline":"alphabetic","offset":-13},
 "layer":[
  {"data":{"name":"precip"},
   "mark":{"type":"rule","color":"#0000ff","strokeWidth":1,"opacity":0.55},
   "encoding":{
    "x":{"field":"date","type":"temporal","scale":{"type":"utc","domain":[{"year":2010,"month":5,"date":1,"utc":true},{"year":2012,"month":1,"date":8,"hours":12,"utc":true}],"nice":false},
      "axis":{"orient":"bottom","format":"%m/%y","tickCount":{"interval":"month","step":1},"tickSize":-11,"labelPadding":37,"labelBaseline":"alphabetic","labelFlush":false,"labelOverlap":false,"labelBound":false,"title":"Time (Month/Year)","titleY":45.4,"titleBaseline":"alphabetic"}},
    "y":{"field":"precipitation","type":"quantitative","scale":{"domain":[0,10],"nice":false},
      "axis":{"orient":"left","values":[0,5,10],"tickSize":-11,"labelPadding":14,"labelBaseline":"middle","title":["Precipitation","(mm)"],"titleX":-59,"titleY":47.75,"titleAngle":270,"titleAlign":"center","titleBaseline":"alphabetic","titleLineHeight":25}},
    "y2":{"datum":0}
   }},
  {"data":{"values":[{"baseline":0}]},
   "mark":{"type":"rule","color":"#888888","strokeWidth":1},
   "encoding":{
    "x":{"datum":{"year":2010,"month":5,"date":1,"utc":true},"type":"temporal","axis":{"orient":"top","labels":false,"tickSize":-11,"tickCount":{"interval":"month","step":1},"title":null,"minExtent":0,"maxExtent":0}},
    "x2":{"datum":{"year":2012,"month":1,"date":8,"hours":12,"utc":true}},
    "y":{"field":"baseline","type":"quantitative","axis":{"orient":"right","labels":false,"values":[0,5,10],"tickSize":-11,"title":null,"minExtent":0,"maxExtent":0}}
   }}
 ],
 "resolve":{"axis":{"x":"independent","y":"independent"}}
},
{
 "width":1119,"height":300.7,
 "layer":[
  {"data":{"name":"smos"},
   "mark":{"type":"point","filled":false,"size":50,"strokeWidth":0.9,"opacity":0.8},
   "encoding":{
    "x":{"field":"date","type":"temporal","scale":{"type":"utc","domain":[{"year":2010,"month":5,"date":1,"utc":true},{"year":2012,"month":1,"date":8,"hours":12,"utc":true}],"nice":false},
      "axis":{"orient":"top","labels":false,"tickSize":-11,"tickCount":{"interval":"month","step":1},"title":null,"minExtent":0,"maxExtent":0}},
    "y":{"field":"sm","type":"quantitative","scale":{"domain":[0,0.8],"nice":false},
      "axis":{"orient":"right","labels":false,"values":[0,0.2,0.4,0.6,0.8],"tickSize":-11,"title":null,"minExtent":0,"maxExtent":0}},
    "shape":{"field":"product","type":"nominal","scale":{"domain":["SMOS L2","SMOS L3"],"range":["circle","M0,-1L0,1M-1,0L1,0M-0.7,-0.7L0.7,0.7M-0.7,0.7L0.7,-0.7"]},
      "legend":{"orient":"none","legendX":1000.3,"legendY":185.7,"title":null,"labelOffset":9.1,"rowPadding":8.6,"padding":0,"symbolSize":50}},
    "color":{"field":"product","type":"nominal","scale":{"domain":["SMOS L2","SMOS L3"],"range":["#2020ff","#ff0000"]},
      "legend":{"orient":"none","legendX":1000.3,"legendY":185.7,"title":null,"labelOffset":9.1,"rowPadding":8.6,"padding":0,"symbolSize":50}}
   }},
  {"data":{"name":"lines"},
   "mark":{"type":"line","strokeJoin":"round"},
   "encoding":{
    "x":{"field":"date","type":"temporal",
      "axis":{"orient":"bottom","format":"%m/%y","tickCount":{"interval":"month","step":1},"tickSize":-11,"labelPadding":36,"labelBaseline":"alphabetic","labelFlush":false,"labelOverlap":false,"labelBound":false,"title":"Time (Month/Year)","titleY":44.7,"titleBaseline":"alphabetic"}},
    "y":{"field":"sm","type":"quantitative",
      "axis":{"orient":"left","values":[0,0.2,0.4,0.6,0.8],"format":"~g","tickSize":-11,"labelPadding":14,"labelBaseline":"middle","title":["Soil Moisture","(m3/m3)"],"titleX":-63,"titleY":150.35,"titleAngle":270,"titleAlign":"center","titleBaseline":"alphabetic","titleLineHeight":25}},
    "stroke":{"field":"series","type":"nominal","scale":{"domain":["Cosmos","probe 0-5cm"],"range":["#000000","#6a5600"]},
      "legend":{"orient":"none","legendX":8.9,"legendY":177.3,"title":null,"symbolType":"stroke","symbolSize":841,"symbolStrokeWidth":2.6,"labelOffset":3,"rowPadding":1.4,"padding":0}},
    "strokeWidth":{"field":"series","type":"ordinal","scale":{"domain":["Cosmos","probe 0-5cm"],"range":[3.2,2.7]},"legend":null}
   }}
 ],
 "resolve":{"axis":{"x":"independent","y":"independent"}}
}
]
}
